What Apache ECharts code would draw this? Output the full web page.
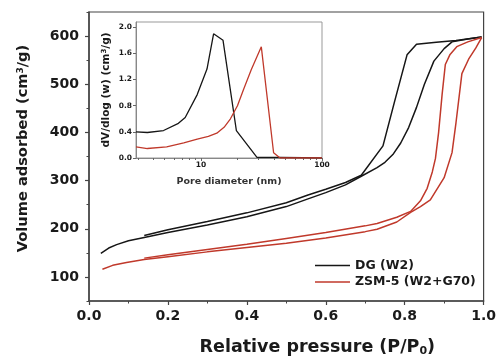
<!DOCTYPE html>
<html><head><meta charset="utf-8">
<script src="https://cdn.jsdelivr.net/npm/echarts@6/dist/echarts.min.js"></script>
<style>html,body{margin:0;padding:0;background:#fff}#c{width:499px;height:362px}</style>
</head><body><div id="c"></div>
<script>
const FONT = 'DejaVu Sans';

// ---- Main isotherm data (relative pressure P/P0, volume cm3/g) ----
const dgAdsP = [0.03,0.05,0.07,0.10,0.14,0.20,0.30,0.40,0.50,0.555,0.60,0.65,0.69,0.73,0.75,0.77,0.79,0.81,0.83,0.85,0.874,0.90,0.92,0.96,0.995];
const dgAdsV = [149,160,167,175,182,192,208,225,246,262,275,291,309,327,338,354,378,410,452,500,548,574,588,594,598];
const dgDesP = [0.14,0.20,0.30,0.40,0.50,0.555,0.60,0.65,0.69,0.745,0.775,0.806,0.83,0.88,0.93,0.995];
const dgDesV = [186,198,215,233,254,270,282,296,311,372,466,561,583,587,591,598];

const zsmAdsP = [0.034,0.06,0.095,0.14,0.20,0.30,0.40,0.50,0.60,0.70,0.73,0.78,0.815,0.84,0.865,0.90,0.92,0.93,0.945,0.962,0.98,0.995];
const zsmAdsV = [116,124,130,136,142,152,161,170,181,194,199,214,234,246,260,306,358,420,522,552,575,597];
const zsmDesP = [0.14,0.20,0.30,0.40,0.50,0.60,0.70,0.73,0.78,0.815,0.84,0.857,0.87,0.878,0.886,0.895,0.903,0.915,0.932,0.96,0.995];
const zsmDesV = [139,146,157,168,180,192,206,211,224,236,258,284,318,346,400,480,541,562,578,588,597];

// ---- Inset pore size distribution (pore diameter nm, dV/dlog(w)) ----
const psdDgD = [2.9,3.6,4.9,6.5,7.4,9.3,11.2,12.7,15.2,19.6,29,45,70,100];
const psdDgV = [0.40,0.39,0.42,0.53,0.62,0.97,1.36,1.90,1.80,0.42,0.01,0.01,0.005,0.0];
const psdZsmD = [2.9,3.6,5.2,7.2,9.3,11.5,13.5,15.5,17.5,20,22.5,26,31.5,39.8,45,100];
const psdZsmV = [0.17,0.145,0.17,0.23,0.29,0.33,0.38,0.47,0.60,0.80,1.05,1.35,1.70,0.08,0.0,0.0];

// ---- Tick values ----
const mainYTicks = [100,200,300,400,500,600];
const mainYMinor = [50,150,250,350,450,550,650];
const insetXTicks = [10,100];
const insetXMinor = [3,4,5,6,7,8,9,20,30,40,50,60,70,80,90];

const seriesNames = ['DG (W2)','ZSM-5 (W2+G70)'];
const BLACK = '#161616', RED = '#c0392b';

function pairs(a,b){ return a.map((v,i)=>[v,b[i]]); }

const chart = echarts.init(document.getElementById('c'), null, {renderer:'canvas'});
const lbl = {fontFamily:FONT, fontWeight:'bold', color:'#1a1a1a'};

chart.setOption({
  animation:false,
  backgroundColor:'#fff',
  grid:[
    {left:89, top:12, right:12, bottom:58, show:true, borderColor:'#444', borderWidth:1.2, backgroundColor:'transparent'},
    {left:136, top:22, width:186, height:136, show:true, borderColor:'#999', borderWidth:1, backgroundColor:'transparent'}
  ],
  legend:{
    data:seriesNames, orient:'vertical', left:310, top:254,
    icon:'rect', itemWidth:35, itemHeight:1.6, itemGap:3.5,
    textStyle:Object.assign({fontSize:12.5, padding:[0,0,0,0]}, lbl)
  },
  xAxis:[
    {gridIndex:0, type:'value', min:0, max:1, interval:0.2, position:'bottom',
     axisLine:{lineStyle:{color:'#444', width:1.5}},
     axisTick:{length:4, lineStyle:{color:'#444', width:1.2}},
     minorTick:{show:true, splitNumber:2, length:2.5, lineStyle:{color:'#444', width:1}},
     splitLine:{show:false}, minorSplitLine:{show:false},
     axisLabel:Object.assign({margin:8, fontSize:14, formatter:v=>v.toFixed(1)}, lbl),
     name:'Relative pressure (P/P{sub|0})', nameLocation:'middle', nameGap:36,
     nameTextStyle:Object.assign({fontSize:17.5, padding:[0,0,0,62],
       rich:{sub:{fontFamily:FONT, fontWeight:'bold', fontSize:11, color:'#1a1a1a', verticalAlign:'bottom', padding:[9,0,0,0]}}}, lbl)
    },
    {gridIndex:1, type:'log', logBase:10, min:2.9, max:100, position:'bottom',
     axisLine:{lineStyle:{color:'#888', width:1}},
     axisTick:{customValues:insetXTicks, length:3, lineStyle:{color:'#666'}},
     splitLine:{show:false},
     axisLabel:Object.assign({customValues:insetXTicks, margin:3, fontSize:7.5}, lbl),
     name:'Pore diameter (nm)', nameLocation:'middle', nameGap:19,
     nameTextStyle:Object.assign({fontSize:9.5}, lbl, {color:'#333'})
    },
    {gridIndex:1, type:'log', logBase:10, min:2.9, max:100, position:'bottom',
     axisLine:{show:false}, axisLabel:{show:false}, splitLine:{show:false},
     axisTick:{customValues:insetXMinor, length:2, lineStyle:{color:'#666'}}
    }
  ],
  yAxis:[
    {gridIndex:0, type:'value', min:50, max:650, position:'left',
     axisLine:{show:true, lineStyle:{color:'#444', width:1.5}},
     axisTick:{show:true, customValues:mainYTicks, length:4, lineStyle:{color:'#444', width:1.2}},
     splitLine:{show:false},
     axisLabel:Object.assign({customValues:mainYTicks, margin:10, fontSize:14}, lbl),
     name:'Volume adsorbed (cm{sup|3}/g)', nameLocation:'middle', nameGap:58,
     nameTextStyle:Object.assign({fontSize:14.6, padding:[0,0,0,16],
       rich:{sup:{fontFamily:FONT, fontWeight:'bold', fontSize:9, color:'#1a1a1a', verticalAlign:'top', padding:[0,0,6,0]}}}, lbl)
    },
    {gridIndex:0, type:'value', min:50, max:650, position:'left',
     axisLine:{show:false}, axisLabel:{show:false}, splitLine:{show:false},
     axisTick:{show:true, customValues:mainYMinor, length:2.5, lineStyle:{color:'#444', width:1}}
    },
    {gridIndex:1, type:'value', min:0, max:2.08, interval:0.4, position:'left',
     axisLine:{show:true, lineStyle:{color:'#888', width:1}},
     axisTick:{show:true, length:3, lineStyle:{color:'#666'}},
     splitLine:{show:false},
     axisLabel:Object.assign({margin:4, fontSize:7.5, showMaxLabel:false, formatter:v=>v.toFixed(1)}, lbl),
     name:'dV/dlog (w) (cm{sup|3}/g)', nameLocation:'middle', nameGap:24,
     nameTextStyle:Object.assign({fontSize:10.5,
       rich:{sup:{fontFamily:FONT, fontWeight:'bold', fontSize:7, color:'#1a1a1a', verticalAlign:'top'}}}, lbl)
    }
  ],
  series:[
    {name:seriesNames[0], type:'line', xAxisIndex:0, yAxisIndex:0, symbol:'none', data:pairs(dgAdsP,dgAdsV), lineStyle:{color:BLACK, width:1.5}, itemStyle:{color:BLACK}},
    {name:seriesNames[0], type:'line', xAxisIndex:0, yAxisIndex:0, symbol:'none', data:pairs(dgDesP,dgDesV), lineStyle:{color:BLACK, width:1.5}, itemStyle:{color:BLACK}},
    {name:seriesNames[1], type:'line', xAxisIndex:0, yAxisIndex:0, symbol:'none', data:pairs(zsmAdsP,zsmAdsV), lineStyle:{color:RED, width:1.5}, itemStyle:{color:RED}},
    {name:seriesNames[1], type:'line', xAxisIndex:0, yAxisIndex:0, symbol:'none', data:pairs(zsmDesP,zsmDesV), lineStyle:{color:RED, width:1.5}, itemStyle:{color:RED}},
    {name:'DG PSD', type:'line', xAxisIndex:1, yAxisIndex:2, symbol:'none', data:pairs(psdDgD,psdDgV), lineStyle:{color:BLACK, width:1.3}, itemStyle:{color:BLACK}},
    {name:'ZSM-5 PSD', type:'line', xAxisIndex:1, yAxisIndex:2, symbol:'none', data:pairs(psdZsmD,psdZsmV), lineStyle:{color:RED, width:1.3}, itemStyle:{color:RED}}
  ]
});
</script>
</body></html>
